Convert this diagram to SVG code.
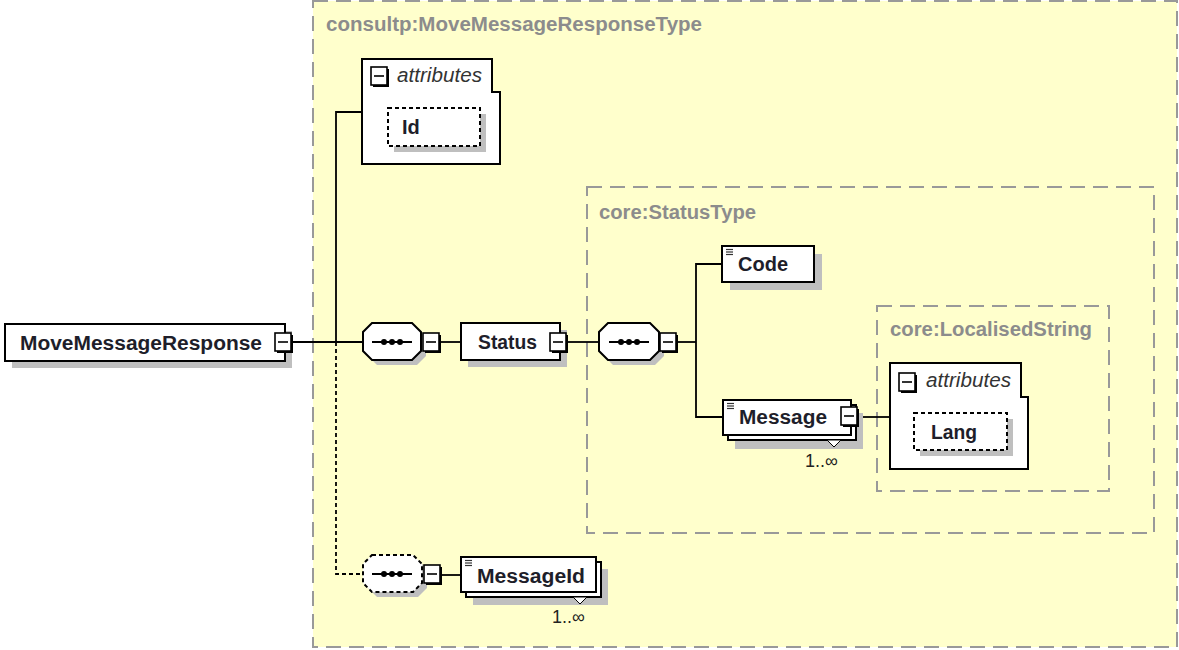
<svg xmlns="http://www.w3.org/2000/svg" width="1179" height="650" viewBox="0 0 1179 650">
<defs>
<style>
.bg{fill:#ffffff}
.type{fill:#ffffcc;stroke:#999999;stroke-width:2;stroke-dasharray:15 8}
.typein{fill:none;stroke:#999999;stroke-width:2;stroke-dasharray:15 8}
.tlabel{font-family:"Liberation Sans",Arial,sans-serif;font-weight:bold;font-size:20px;fill:#8c8c8c}
.box{fill:#ffffff;stroke:#000000;stroke-width:2}
.dbox{fill:#ffffff;stroke:#000000;stroke-width:2;stroke-dasharray:4 3}
.shadow{fill:#bfbfbf}
.name{font-family:"Liberation Sans",Arial,sans-serif;font-weight:bold;font-size:20px;fill:#1e1e2a}
.attr{font-family:"Liberation Sans",Arial,sans-serif;font-style:italic;font-size:20px;fill:#333333}
.occ{font-family:"Liberation Sans",Arial,sans-serif;font-size:18px;fill:#222222}
.line{fill:none;stroke:#000000;stroke-width:1.8}
.dline{fill:none;stroke:#000000;stroke-width:1.8;stroke-dasharray:4 3}
.tri{fill:#ffffff;stroke:#000000;stroke-width:1}
</style>
<g id="minus">
<rect x="2" y="2" width="16" height="18" fill="#000000"/>
<rect x="0" y="0" width="16" height="18" fill="#ffffff" stroke="#000000" stroke-width="1.6"/>
<line x1="3" y1="9" x2="13" y2="9" stroke="#000000" stroke-width="1.6"/>
</g>
<g id="lines">
<line x1="0" y1="0.5" x2="7" y2="0.5" stroke="#333" stroke-width="1.2"/>
<line x1="0" y1="3" x2="7" y2="3" stroke="#333" stroke-width="1.2"/>
<line x1="0" y1="5.5" x2="7" y2="5.5" stroke="#333" stroke-width="1.2"/>
</g>
<g id="dots">
<line x1="0" y1="0" x2="40" y2="0" stroke="#000000" stroke-width="1.8"/>
<circle cx="12" cy="0" r="3" fill="#000000"/>
<circle cx="20" cy="0" r="3" fill="#000000"/>
<circle cx="28" cy="0" r="3" fill="#000000"/>
</g>
</defs>
<rect x="0" y="0" width="1179" height="650" class="bg"/>

<g id="type-MoveMessageResponseType">
<rect x="313" y="1" width="864" height="646" class="type"/>
<text x="326" y="31" class="tlabel" textLength="376" lengthAdjust="spacingAndGlyphs">consultp:MoveMessageResponseType</text>
</g>
<g id="type-StatusType">
<rect x="587" y="187" width="567" height="346" class="typein"/>
<text x="599" y="219" class="tlabel" textLength="157" lengthAdjust="spacingAndGlyphs">core:StatusType</text>
</g>
<g id="type-LocalisedString">
<rect x="877" y="306" width="232" height="185" class="typein"/>
<text x="890" y="336" class="tlabel" textLength="202" lengthAdjust="spacingAndGlyphs">core:LocalisedString</text>
</g>

<g id="connectors">
<path class="line" d="M293,342 H363"/>
<path class="line" d="M336,342 V112 H362"/>
<path class="dline" d="M336,342 V574 H363"/>
<path class="line" d="M440,342 H461"/>
<path class="line" d="M567,342 H599"/>
<path class="line" d="M677,342 H696"/>
<path class="line" d="M722,264 H696 V417 H722"/>
<path class="line" d="M858,417 H890"/>
<path class="line" d="M441,575 H461"/>
</g>

<g id="MoveMessageResponse">
<rect x="12" y="331" width="280" height="37" class="shadow"/>
<rect x="5" y="324" width="280" height="37" class="box"/>
<text x="20" y="350" class="name" textLength="242" lengthAdjust="spacingAndGlyphs">MoveMessageResponse</text>
<use href="#minus" x="275" y="333"/>
</g>

<g id="attributes-Id">
<path class="box" d="M362,59 H492 V92 H500 V164 H362 Z"/>
<use href="#minus" x="371" y="67"/>
<text x="397" y="82" class="attr" textLength="85" lengthAdjust="spacingAndGlyphs">attributes</text>
<g id="Id">
<rect x="394" y="114" width="92" height="38" class="shadow"/>
<rect x="388" y="108" width="92" height="38" class="dbox"/>
<text x="402" y="134" class="name">Id</text>
</g>
</g>

<g id="sequence-1">
<polygon class="shadow" points="377,328 417,328 426,337 426,356 417,365 377,365 368,356 368,337"/>
<polygon class="box" points="372,323 412,323 421,332 421,351 412,360 372,360 363,351 363,332"/>
<use href="#dots" x="372" y="342"/>
<use href="#minus" x="423" y="333"/>
</g>

<g id="Status">
<rect x="468" y="330" width="99" height="37" class="shadow"/>
<rect x="461" y="323" width="99" height="37" class="box"/>
<text x="478" y="349" class="name" textLength="59" lengthAdjust="spacingAndGlyphs">Status</text>
<use href="#minus" x="550" y="333"/>
</g>

<g id="sequence-2">
<polygon class="shadow" points="613,328 655,328 664,337 664,356 655,365 613,365 604,356 604,337"/>
<polygon class="box" points="608,323 650,323 659,332 659,351 650,360 608,360 599,351 599,332"/>
<use href="#dots" x="609" y="342"/>
<use href="#minus" x="660" y="333"/>
</g>

<g id="Code">
<rect x="730" y="254" width="92" height="36" class="shadow"/>
<rect x="722" y="246" width="92" height="36" class="box"/>
<use href="#lines" x="726" y="249"/>
<text x="738" y="271" class="name" textLength="50" lengthAdjust="spacingAndGlyphs">Code</text>
</g>

<g id="Message">
<rect x="735" y="413" width="128" height="36" class="shadow"/>
<rect x="728" y="405" width="128" height="35" class="box"/>
<rect x="723" y="400" width="128" height="35" class="box"/>
<use href="#lines" x="727" y="403"/>
<text x="739" y="424" class="name" textLength="88" lengthAdjust="spacingAndGlyphs">Message</text>
<use href="#minus" x="841" y="407"/>
<polygon class="tri" points="827,440 841,440 834,447"/>
<text x="805" y="467" class="occ">1..∞</text>
</g>

<g id="attributes-Lang">
<path class="box" d="M890,363 H1021 V397 H1028 V469 H890 Z"/>
<use href="#minus" x="899" y="373"/>
<text x="926" y="387" class="attr" textLength="85" lengthAdjust="spacingAndGlyphs">attributes</text>
<g id="Lang">
<rect x="920" y="419" width="93" height="37" class="shadow"/>
<rect x="914" y="413" width="93" height="37" class="dbox"/>
<text x="931" y="439" class="name" textLength="46" lengthAdjust="spacingAndGlyphs">Lang</text>
</g>
</g>

<g id="sequence-3">
<polygon class="shadow" points="377,560 418,560 427,569 427,588 418,597 377,597 368,588 368,569"/>
<polygon class="dbox" points="372,555 413,555 422,564 422,583 413,592 372,592 363,583 363,564"/>
<use href="#dots" x="372" y="574"/>
<use href="#minus" x="424" y="565"/>
</g>

<g id="MessageId">
<rect x="473" y="569" width="135" height="36" class="shadow"/>
<rect x="466" y="562" width="135" height="35" class="box"/>
<rect x="461" y="557" width="135" height="35" class="box"/>
<use href="#lines" x="465" y="560"/>
<text x="477" y="583" class="name" textLength="108" lengthAdjust="spacingAndGlyphs">MessageId</text>
<polygon class="tri" points="573,597 587,597 580,604"/>
<text x="552" y="623" class="occ">1..∞</text>
</g>
</svg>
